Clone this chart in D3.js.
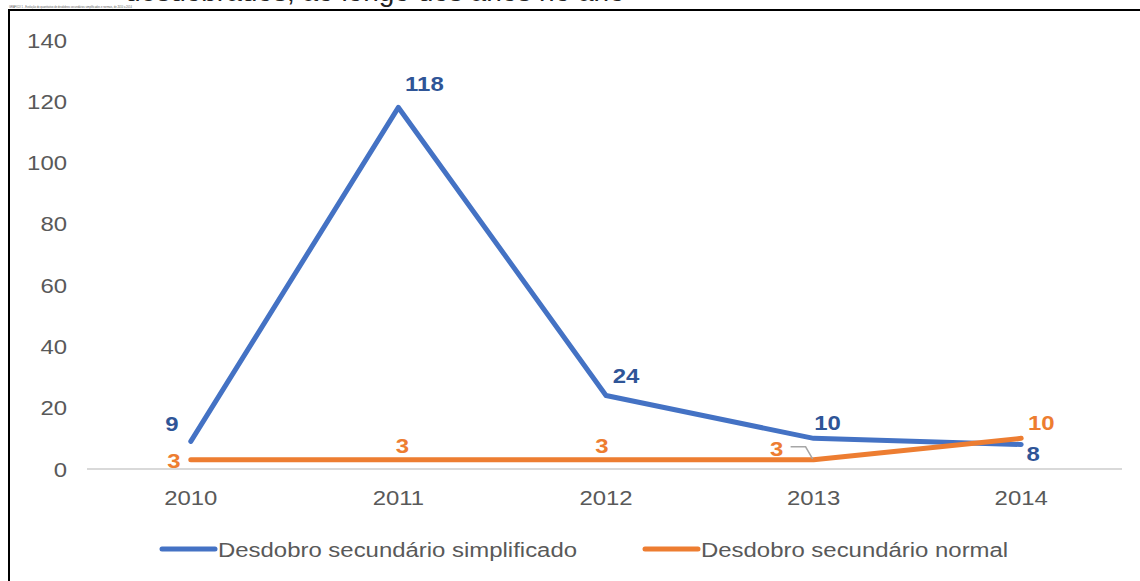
<!DOCTYPE html>
<html>
<head>
<meta charset="utf-8">
<script src="https://cdn.jsdelivr.net/npm/d3@7"></script>
<style>
  body { margin: 0; background: #fff; }
  svg { display: block; font-family: "Liberation Sans", Arial, sans-serif; }
</style>
</head>
<body>
<svg id="chart" width="1140" height="581"></svg>
<script>
// chart data
var years = ['2010', '2011', '2012', '2013', '2014'];
var simplificado = [9, 118, 24, 10, 8];
var normal = [3, 3, 3, 3, 10];
var yTicks = [0, 20, 40, 60, 80, 100, 120, 140];
var seriesNames = ['Desdobro secundário simplificado', 'Desdobro secundário normal'];
var colors = ['#4472C4', '#ED7D31'];

var svg = d3.select('#chart');
var SX = 1.14; // the picture is a bit stretched sideways

// put text at x,y and stretch it horizontally
function place(sel, fx, fy) {
  sel.attr('transform', function(d, i) {
    return 'translate(' + fx(d, i) + ',' + fy(d, i) + ') scale(' + SX + ',1)';
  });
}

// text of the page above, cut off by the crop
svg.append('text')
    .attr('x', 125).attr('y', 1)
    .style('font-size', '28px').style('fill', '#222')
    .text('desdobrados, ao longo dos anos no ano');
svg.append('text')
    .attr('x', 9).attr('y', 7.5)
    .style('font-size', '2.6px').style('fill', '#555')
    .text('GRÁFICO 1 - Evolução do quantitativo de desdobros secundários simplificados e normais, de 2010 a 2014');

// frame
svg.append('path')
    .attr('d', 'M9,581V10H1140')
    .attr('fill', 'none').attr('stroke', '#000').attr('stroke-width', 2);

var x = d3.scaleBand().domain(years).range([87, 1125]);
var y = d3.scaleLinear().domain([0, 140]).range([469, 40]);
var cx = function(d) { return x(d) + x.bandwidth() / 2; };

// y axis labels (no gridlines)
svg.selectAll('.ylab')
    .data(yTicks)
    .enter().append('text')
      .attr('class', 'ylab')
      .attr('text-anchor', 'end')
      .style('font-size', '21px').style('fill', '#595959')
      .text(function(d) { return d; })
      .call(place, function() { return 67; }, function(d) { return y(d) + 7.5; });

// baseline
svg.append('line')
    .attr('x1', 87).attr('x2', 1122)
    .attr('y1', y(0)).attr('y2', y(0))
    .attr('stroke', '#d9d9d9').attr('stroke-width', 2);

svg.selectAll('.xlab')
    .data(years)
    .enter().append('text')
      .attr('class', 'xlab')
      .attr('text-anchor', 'middle')
      .style('font-size', '21px').style('fill', '#595959')
      .text(function(d) { return d; })
      .call(place, cx, function() { return 505; });

var line = d3.line()
    .x(function(d, i) { return cx(years[i]); })
    .y(function(d) { return y(d); });

[simplificado, normal].forEach(function(s, k) {
  svg.append('path').datum(s)
      .attr('d', line).attr('fill', 'none')
      .attr('stroke', colors[k]).attr('stroke-width', 5)
      .attr('stroke-linecap', 'round').attr('stroke-linejoin', 'round');
});

// data label offsets, relative to each point
var blueOff = [[-19, -17], [26, -23], [20, -19], [14, -15], [12, 10]];
var orangeOff = [[-17, 1], [4, -14], [-4, -14], [-37, -11], [20, -15]];

svg.selectAll('.lblb')
    .data(simplificado)
    .enter().append('text')
      .attr('text-anchor', 'middle').attr('dominant-baseline', 'central')
      .style('font-size', '21px').style('font-weight', 'bold').style('fill', '#2F5597')
      .text(function(d) { return d; })
      .call(place,
        function(d, i) { return cx(years[i]) + blueOff[i][0]; },
        function(d, i) { return y(d) + blueOff[i][1]; });

svg.selectAll('.lblo')
    .data(normal)
    .enter().append('text')
      .attr('text-anchor', 'middle').attr('dominant-baseline', 'central')
      .style('font-size', '21px').style('font-weight', 'bold').style('fill', '#ED7D31')
      .text(function(d) { return d; })
      .call(place,
        function(d, i) { return cx(years[i]) + orangeOff[i][0]; },
        function(d, i) { return y(d) + orangeOff[i][1]; });

// leader line for the 2013 orange label
var lx = cx('2013'), ly = y(normal[3]);
svg.append('path')
    .attr('d', 'M' + (lx - 23) + ',' + (ly - 13) + 'H' + (lx - 8) + 'L' + (lx - 1) + ',' + (ly - 1))
    .attr('fill', 'none').attr('stroke', '#a6a6a6').attr('stroke-width', 1.5);

// legend
var legend = svg.selectAll('.leg')
    .data(seriesNames)
    .enter().append('g')
      .attr('transform', function(d, i) { return 'translate(' + [160, 643][i] + ',549)'; });
legend.append('line')
    .attr('x1', 2).attr('x2', 55).attr('y1', 0).attr('y2', 0)
    .attr('stroke', function(d, i) { return colors[i]; })
    .attr('stroke-width', 5).attr('stroke-linecap', 'round');
legend.append('text')
    .style('font-size', '21px').style('fill', '#595959')
    .text(function(d) { return d; })
    .call(place, function() { return 58; }, function() { return 7.5; });
</script>
</body>
</html>
